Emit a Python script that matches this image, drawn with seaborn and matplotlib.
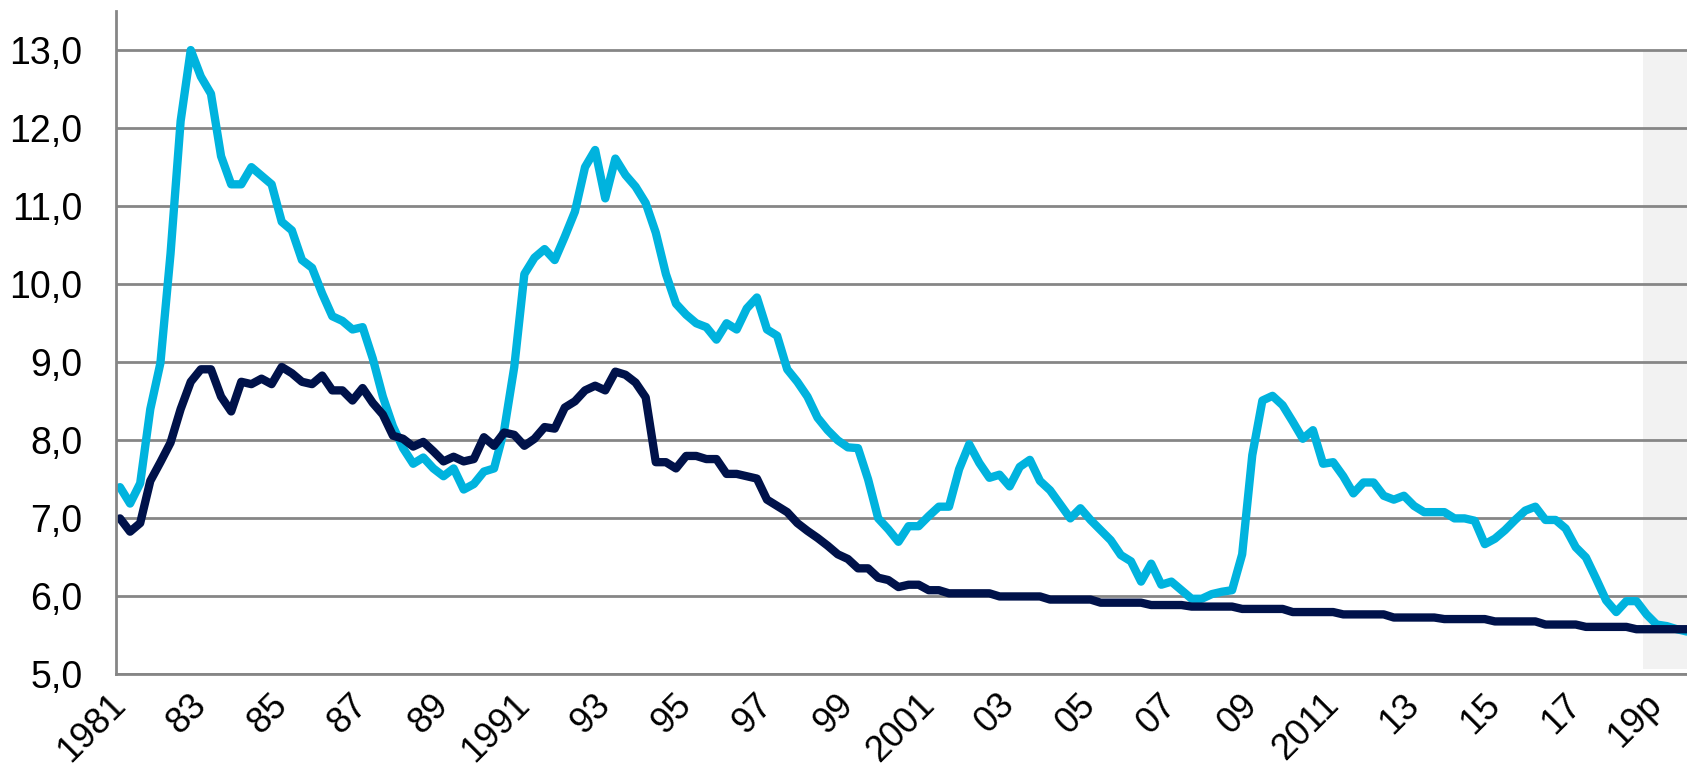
import matplotlib
matplotlib.use("Agg")
import matplotlib.pyplot as plt
import pandas as pd
import seaborn as sns

# Quarterly values, 1981Q1 onwards (index 0 = 1981Q1)
unemployment_rate = [
    7.40, 7.19, 7.45, 8.40, 8.99, 10.39, 12.09, 13.00, 12.66, 12.44,
    11.64, 11.28, 11.28, 11.50, 11.39, 11.28, 10.80, 10.69, 10.31, 10.21,
    9.88, 9.59, 9.53, 9.42, 9.45, 9.05, 8.56, 8.18, 7.90, 7.70,
    7.78, 7.64, 7.54, 7.64, 7.37, 7.44, 7.60, 7.64, 8.13, 8.94,
    10.13, 10.34, 10.45, 10.31, 10.61, 10.93, 11.50, 11.72, 11.10, 11.61,
    11.40, 11.25, 11.04, 10.66, 10.13, 9.75, 9.61, 9.50, 9.45, 9.29,
    9.50, 9.42, 9.69, 9.83, 9.42, 9.34, 8.91, 8.75, 8.56, 8.29,
    8.13, 8.00, 7.91, 7.90, 7.50, 7.00, 6.86, 6.70, 6.90, 6.90,
    7.03, 7.15, 7.15, 7.63, 7.95, 7.71, 7.52, 7.56, 7.41, 7.66,
    7.75, 7.48, 7.36, 7.18, 7.00, 7.13, 6.98, 6.85, 6.72, 6.53,
    6.45, 6.19, 6.42, 6.15, 6.19, 6.08, 5.97, 5.97, 6.03, 6.06,
    6.08, 6.54, 7.81, 8.51, 8.57, 8.45, 8.24, 8.02, 8.13, 7.70,
    7.72, 7.54, 7.32, 7.46, 7.46, 7.29, 7.24, 7.29, 7.16, 7.08,
    7.08, 7.08, 7.00, 7.00, 6.97, 6.67, 6.74, 6.85, 6.98, 7.10,
    7.15, 6.98, 6.98, 6.87, 6.63, 6.50, 6.23, 5.95, 5.80, 5.94,
    5.94, 5.77, 5.64, 5.62, 5.58, 5.55,
]

structural_rate = [
    7.00, 6.83, 6.94, 7.48, 7.72, 7.97, 8.40, 8.75, 8.91, 8.91,
    8.56, 8.37, 8.75, 8.72, 8.79, 8.72, 8.94, 8.86, 8.75, 8.72,
    8.83, 8.64, 8.64, 8.51, 8.67, 8.48, 8.33, 8.06, 8.02, 7.92,
    7.98, 7.86, 7.73, 7.79, 7.73, 7.76, 8.04, 7.93, 8.10, 8.07,
    7.93, 8.02, 8.17, 8.15, 8.42, 8.50, 8.64, 8.70, 8.64, 8.88,
    8.84, 8.74, 8.55, 7.72, 7.72, 7.64, 7.80, 7.80, 7.76, 7.76,
    7.57, 7.57, 7.54, 7.51, 7.24, 7.16, 7.08, 6.94, 6.84, 6.75,
    6.65, 6.54, 6.48, 6.36, 6.36, 6.24, 6.21, 6.12, 6.15, 6.15,
    6.08, 6.08, 6.04, 6.04, 6.04, 6.04, 6.04, 6.00, 6.00, 6.00,
    6.00, 6.00, 5.96, 5.96, 5.96, 5.96, 5.96, 5.92, 5.92, 5.92,
    5.92, 5.92, 5.89, 5.89, 5.89, 5.89, 5.87, 5.87, 5.87, 5.87,
    5.87, 5.84, 5.84, 5.84, 5.84, 5.84, 5.80, 5.80, 5.80, 5.80,
    5.80, 5.77, 5.77, 5.77, 5.77, 5.77, 5.73, 5.73, 5.73, 5.73,
    5.73, 5.71, 5.71, 5.71, 5.71, 5.71, 5.68, 5.68, 5.68, 5.68,
    5.68, 5.64, 5.64, 5.64, 5.64, 5.61, 5.61, 5.61, 5.61, 5.61,
    5.58, 5.58, 5.58, 5.58, 5.58, 5.58,
]

label_quarters = [0, 8, 16, 24, 32, 40, 48, 56, 64, 72,
                  80, 88, 96, 104, 112, 120, 128, 136, 144, 152]
x_labels = ["1981", "83", "85", "87", "89", "1991", "93", "95", "97", "99",
            "2001", "03", "05", "07", "09", "2011", "13", "15", "17", "19p"]
y_values = [5, 6, 7, 8, 9, 10, 11, 12, 13]
y_labels = ["5,0", "6,0", "7,0", "8,0", "9,0", "10,0", "11,0", "12,0", "13,0"]

forecast_start = 150.6
forecast_bottom = 5.065
forecast_top = 13.0

LIGHT_BLUE = "#00B3DE"
NAVY = "#00124A"
GREY = "#868686"
SHADE = "#F2F2F2"

Y_MIN, Y_MAX = 5.0, 13.5
X_MIN, X_MAX = -0.42, 154.4


def build_frame() -> pd.DataFrame:
    n = len(unemployment_rate)
    return pd.DataFrame({
        "quarter": list(range(n)) * 2,
        "value": unemployment_rate + structural_rate,
        "series": ["unemployment"] * n + ["structural"] * n,
    })


def main() -> None:
    sns.set_style("white")
    plt.rcParams["font.family"] = ["Liberation Sans", "DejaVu Sans"]

    df = build_frame()
    fig = plt.figure(figsize=(16.87, 7.72), dpi=100)
    ax = fig.add_axes([0.0686, 0.1263, 0.9314, 0.8594])

    # shaded forecast period
    span = Y_MAX - Y_MIN
    ax.axvspan(forecast_start, X_MAX + 5,
               ymin=(forecast_bottom - Y_MIN) / span,
               ymax=(forecast_top - Y_MIN) / span,
               color=SHADE, lw=0, zorder=0)

    sns.lineplot(data=df, x="quarter", y="value", hue="series",
                 hue_order=["unemployment", "structural"],
                 palette={"unemployment": LIGHT_BLUE, "structural": NAVY},
                 linewidth=6.0, legend=False, errorbar=None, ax=ax)

    ax.set_xlim(X_MIN, X_MAX)
    ax.set_ylim(Y_MIN, Y_MAX)
    ax.set_xlabel("")
    ax.set_ylabel("")

    ax.set_axisbelow(True)
    ax.yaxis.grid(True, color=GREY, linewidth=2.0)
    ax.xaxis.grid(False)

    for side in ["top", "right"]:
        ax.spines[side].set_visible(False)
    for side in ["left", "bottom"]:
        ax.spines[side].set_color(GREY)
        ax.spines[side].set_linewidth(2.0)

    ax.set_yticks(y_values)
    ax.set_yticklabels(y_labels)
    ax.tick_params(axis="y", length=8, width=2.0, color=GREY,
                   pad=16, labelsize=27, labelcolor="black")

    ax.set_xticks(label_quarters)
    ax.set_xticks(range(0, 156), minor=True)
    ax.xaxis.remove_overlapping_locs = False
    ax.set_xticklabels(x_labels, rotation=45, ha="right", va="center",
                       rotation_mode="anchor")
    ax.tick_params(axis="x", which="both", length=7, width=2.0, color=GREY,
                   direction="out")
    ax.tick_params(axis="x", which="major", pad=11, labelsize=26,
                   labelcolor="black")

    fig.savefig("out.png", dpi=100)
    plt.close(fig)


if __name__ == "__main__":
    main()
